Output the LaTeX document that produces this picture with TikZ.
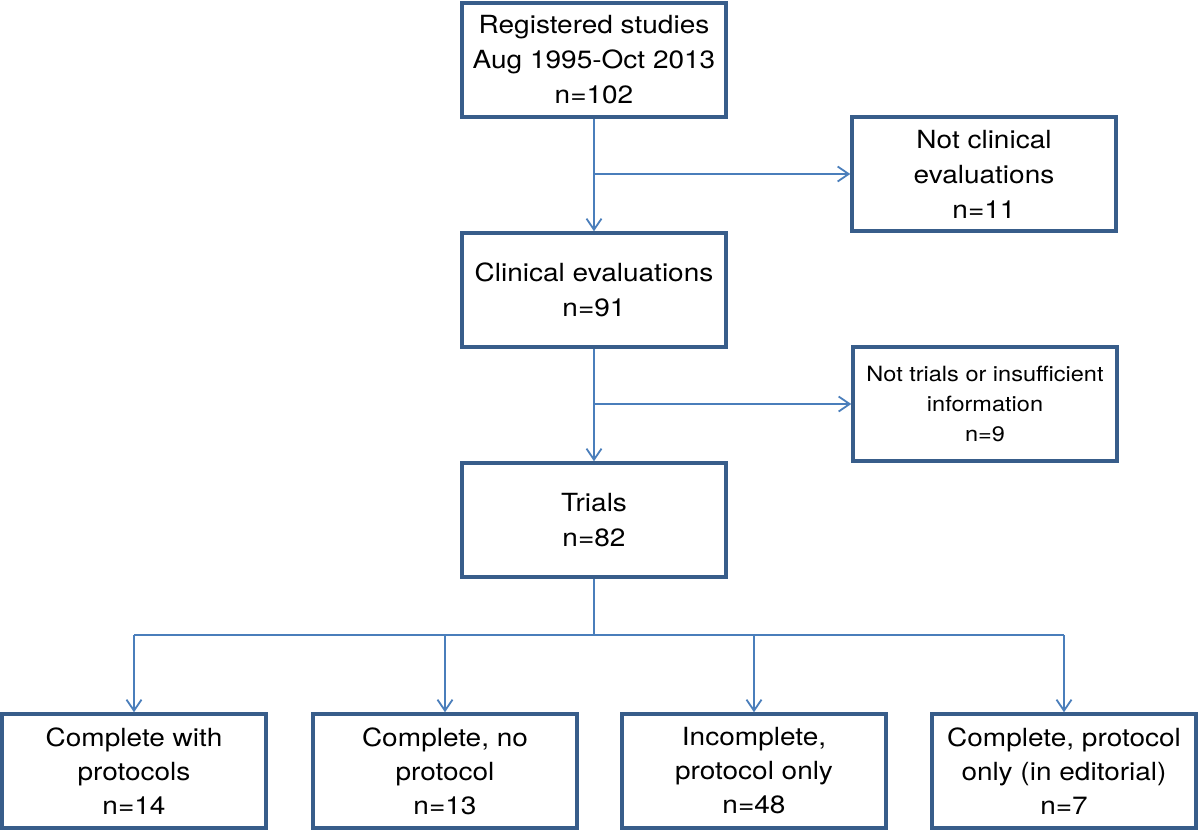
\documentclass[tikz,border=0pt]{standalone}
\usepackage{fontspec}
\setmainfont[FakeStretch=1.12]{TeX Gyre Heros}
\usetikzlibrary{arrows.meta}
\definecolor{boxblue}{HTML}{385D8A}
\definecolor{linkblue}{HTML}{4A7EBB}
\begin{document}
\begin{tikzpicture}[x=1pt,y=-1pt,
    box/.style={draw=boxblue, line width=3.5pt, align=center, inner sep=0pt,
        minimum width=264pt, minimum height=114pt, font=\fontsize{25}{35}\selectfont},
    link/.style={draw=linkblue, line width=1.8pt, -{Straight Barb[length=11pt,width=15pt]}},
    trunk/.style={draw=linkblue, line width=1.8pt}]
            \useasboundingbox (0,0) rectangle (1200,833);
            \node[box](reg) at (594,60){Registered studies\\Aug 1995-Oct 2013\\n=102};
            \node[box](notclin) at (984,174){Not clinical\\evaluations\\n=11};
            \node[box](clin) at (594,290){Clinical evaluations\\n=91};
            \node[box, font=\fontsize{21}{30}\selectfont](nottrial) at (985,404){Not trials or insufficient\\information\\n=9};
            \node[box](trials) at (594,520){Trials\\n=82};
            \node[box, font=\fontsize{25}{34}\selectfont](c1) at (134,771){Complete with\\protocols\\n=14};
            \node[box, font=\fontsize{25}{34}\selectfont](c2) at (445,771){Complete, no\\protocol\\n=13};
            \node[box, font=\fontsize{25}{34}\selectfont](c3) at (754,771){Incomplete,\\protocol only\\n=48};
            \node[box, font=\fontsize{25}{34}\selectfont](c4) at (1064,771){Complete, protocol\\only (in editorial)\\n=7};
            \coordinate (split) at (594,635);
            \draw[link] (reg) -- (clin);
            \draw[link] (reg.south |- notclin.west) -- (notclin);
            \draw[link] (clin) -- (trials);
            \draw[link] (clin.south |- nottrial.west) -- (nottrial);
            \draw[trunk] (trials.south) -- (split);
            \draw[trunk] (c1.north |- split) -- (c4.north |- split);
            \foreach \n in {c1,c2,c3,c4}
                \draw[link] (\n.north |- split) -- (\n.north);
        \end{tikzpicture}
\end{document}
